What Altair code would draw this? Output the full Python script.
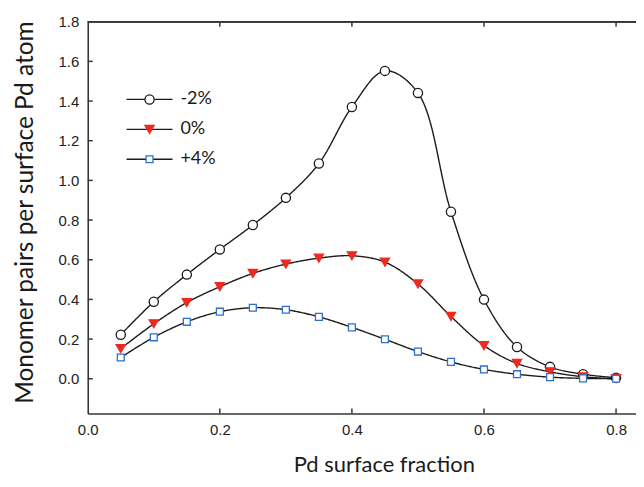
import altair as alt
import pandas as pd

# ---- data ----
pd_fraction = [0.05, 0.10, 0.15, 0.20, 0.25, 0.30, 0.35, 0.40,
               0.45, 0.50, 0.55, 0.60, 0.65, 0.70, 0.75, 0.80]
strain_minus2 = [0.222, 0.388, 0.525, 0.652, 0.775, 0.912, 1.085, 1.370,
                 1.552, 1.441, 0.842, 0.399, 0.160, 0.060, 0.023, 0.005]
strain_0 = [0.152, 0.277, 0.384, 0.464, 0.531, 0.578, 0.608, 0.620,
            0.588, 0.478, 0.314, 0.167, 0.077, 0.035, 0.010, 0.000]
strain_plus4 = [0.107, 0.209, 0.287, 0.338, 0.358, 0.348, 0.312, 0.259,
                0.199, 0.137, 0.085, 0.047, 0.023, 0.008, 0.002, 0.000]
series_names = ["-2%", "0%", "+4%"]
x_ticks = [0.0, 0.2, 0.4, 0.6, 0.8]
y_ticks = [0.0, 0.2, 0.4, 0.6, 0.8, 1.0, 1.2, 1.4, 1.6, 1.8]

rows = []
for name, vals in zip(series_names, [strain_minus2, strain_0, strain_plus4]):
    for xv, yv in zip(pd_fraction, vals):
        rows.append({"x": xv, "y": yv, "series": name, "curve": name})
df = pd.DataFrame(rows)
xtick_df = pd.DataFrame({"v": x_ticks[1:]})
ytick_df = pd.DataFrame({"v": y_ticks[:-1]})

# ---- styling ----
W, H = 550, 393
LINE = "#1e1a17"
AXIS = "#3d3431"
RED = "#ec2a1f"
BLUE = "#2f6fd0"
LABEL_FONT = "Liberation Sans"
TITLE_FONT = "Lato"

xscale = alt.Scale(domain=[0, W / 662.5], nice=False, zero=False)
yscale = alt.Scale(domain=[-0.175, 1.8], nice=False, zero=False)

xaxis = alt.Axis(values=x_ticks, format=".1f", ticks=False, grid=False,
                 labelFlush=False, title="Pd surface fraction",
                 labelPadding=9, titlePadding=17, titleX=297,
                 titleFontSize=22)
yaxis = alt.Axis(values=y_ticks, format=".1f", ticks=False, grid=False,
                 labelFlush=False,
                 title="Monomer pairs per surface Pd atom", labelPadding=9,
                 titlePadding=21, titleFontSize=24.5, titleY=191)

LEG_X, LEG_Y = 53, 69
common_leg = dict(orient="none", legendX=LEG_X, legendY=LEG_Y, title=None,
                  symbolSize=85, labelFontSize=18, labelFont=TITLE_FONT,
                  labelColor="#1a1a1a", rowPadding=12, labelOffset=22,
                  padding=0, symbolStrokeWidth=1.3)

line_leg = alt.Legend(symbolType="M-5,0H5", symbolStrokeColor=LINE,
                      labelOpacity=0, **common_leg)
point_leg = alt.Legend(**common_leg)

lines = alt.Chart(df).mark_line(
    interpolate="catmull-rom", color=LINE, strokeWidth=1.4
).encode(
    x=alt.X("x:Q", scale=xscale, axis=xaxis),
    y=alt.Y("y:Q", scale=yscale, axis=yaxis),
    strokeDash=alt.StrokeDash("curve:N", sort=series_names,
                              scale=alt.Scale(range=[[1, 0], [1, 0], [1, 0]]),
                              legend=line_leg),
)

points = alt.Chart(df).mark_point(
    filled=True, opacity=1, size=85, strokeWidth=1.3
).encode(
    x=alt.X("x:Q", scale=xscale, axis=xaxis),
    y=alt.Y("y:Q", scale=yscale, axis=yaxis),
    shape=alt.Shape("series:N", scale=alt.Scale(
        domain=series_names,
        range=["circle", "triangle-down", "M-0.75,-0.75H0.75V0.75H-0.75Z"]),
        legend=point_leg),
    fill=alt.Fill("series:N", scale=alt.Scale(
        domain=series_names, range=["white", RED, "white"]), legend=point_leg),
    stroke=alt.Stroke("series:N", scale=alt.Scale(
        domain=series_names, range=[LINE, RED, BLUE]), legend=point_leg),
)

tick_len = 5
top_ticks = alt.Chart(xtick_df).mark_rule(color=AXIS, strokeWidth=1.5).encode(
    x=alt.X("v:Q", scale=xscale, axis=xaxis),
    y=alt.value(0), y2=alt.value(tick_len))
bottom_ticks = alt.Chart(xtick_df).mark_rule(color=AXIS, strokeWidth=1.5).encode(
    x=alt.X("v:Q", scale=xscale, axis=xaxis),
    y=alt.value(H), y2=alt.value(H - tick_len))
left_ticks = alt.Chart(ytick_df).mark_rule(color=AXIS, strokeWidth=1.5).encode(
    y=alt.Y("v:Q", scale=yscale, axis=yaxis),
    x=alt.value(0), x2=alt.value(tick_len))
top_border = alt.Chart(xtick_df).mark_rule(color=AXIS, strokeWidth=1.6).encode(
    x=alt.value(0), x2=alt.value(W), y=alt.value(0))

chart = alt.layer(
    top_border, top_ticks, bottom_ticks, left_ticks, lines, points
).properties(
    width=W, height=H,
    autosize=alt.AutoSizeParams(type="none"),
    padding={"left": 80, "top": 13, "right": 0, "bottom": 66},
    background="white",
).configure_view(
    stroke=None
).configure_axis(
    domainColor=AXIS, domainWidth=1.6,
    labelFont=LABEL_FONT, labelFontSize=15, labelColor="#222222",
    titleFont=TITLE_FONT, titleFontWeight="normal",
    titleColor="#1a1a1a",
)

chart.save("out.html", embed_options={"renderer": "svg", "actions": False})
